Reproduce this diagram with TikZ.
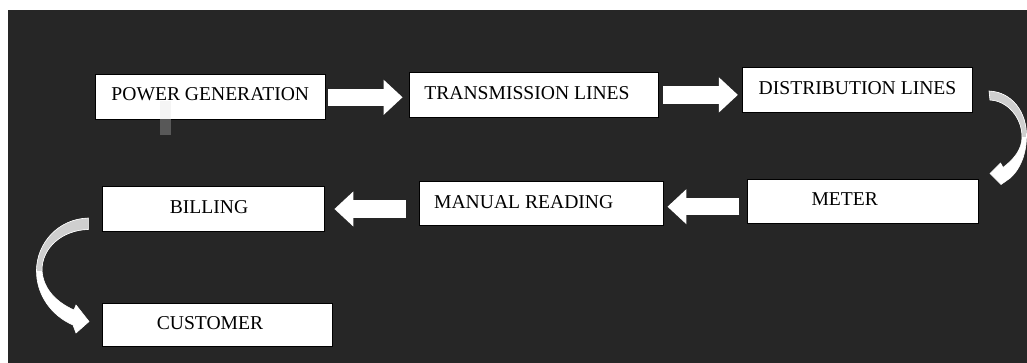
\documentclass[tikz,border=0pt]{standalone}
\usepackage{fontspec}
\setmainfont{Liberation Serif}
\usetikzlibrary{arrows.meta,calc}
\definecolor{bgdark}{HTML}{262626}
\definecolor{ribbongray}{HTML}{CFCFCF}
\definecolor{stubgray}{HTML}{585858}

\begin{document}
\begin{tikzpicture}[x=1pt,y=-1pt,
    box/.style={rectangle, draw=black, line width=0.8pt, fill=white, inner sep=0pt, text depth=4pt, font=\fontsize{19.6}{22}\selectfont},
    blockarrow/.style={white, line width=17.5pt, -{Triangle[length=19pt,width=34pt]}},
    ribbon/.style={fill=white, draw=white, line width=0.6pt}]

    \useasboundingbox (0,0) rectangle (1027,363);
    \fill[white] (0,0) rectangle (1027,363);
    \fill[bgdark] (8,10) rectangle (1027,363);

    % first row
    \node[box, minimum width=230.5pt, minimum height=45pt] (pg) at (210.3,96.5) {POWER GENERATION};
    \node[box, minimum width=249pt, minimum height=44.3pt] (tl) at (533.5,94.9) {TRANSMISSION LINES\hspace*{13pt}};
    \node[box, minimum width=230.4pt, minimum height=44.8pt] (dl) at (857.5,89.9) {DISTRIBUTION LINES};

    % second row
    \node[box, minimum width=230.4pt, minimum height=44pt] (meter) at (862.7,201.3) {METER\hspace*{36pt}};
    \node[box, minimum width=244.3pt, minimum height=44pt] (mr) at (541.2,203.7) {MANUAL READING\hspace*{35pt}};
    \node[box, minimum width=222pt, minimum height=44.3pt] (billing) at (213.3,208.8) {BILLING\hspace*{8.6pt}};

    % last row
    \node[box, minimum width=230pt, minimum height=43.4pt] (customer) at (217.3,325) {CUSTOMER\hspace*{14.6pt}};

    % grey stub under the first box
    \fill[stubgray] ($(pg.south west)+(65,0)$) rectangle ++(11.7,16);
    \fill[black!4] ($(pg.south west)+(65,-18)$) rectangle ++(11.7,17.4);

    % straight arrows
    \draw[blockarrow] ($(pg.east)+(2.5,0.8)$) -- ($(pg.east -| tl.west)+(-6,0.8)$);
    \draw[blockarrow] ($(tl.east)+(5,0)$) -- ($(tl.east -| dl.west)+(-4,0)$);
    \draw[blockarrow] ($(meter.west)+(-7.7,5.4)$) -- ($(meter.west -| mr.east)+(3.7,5.4)$);
    \draw[blockarrow] ($(mr.west)+(-13,5.3)$) -- ($(mr.west -| billing.east)+(9.7,5.3)$);

    % curved arrows
    \filldraw[ribbon, path picture={\fill[ribbongray] (980,80) rectangle (1030,137);}]
        (989,91) .. controls (1012,92) and (1027,112) .. (1026.5,137)
        .. controls (1026,160) and (1016,175) .. (1006,181)
        -- (1001,184.5) -- (990,173.5) -- (1000.5,163) -- (1003,167.5)
        .. controls (1013,160) and (1022,150) .. (1022,137)
        .. controls (1022,118) and (1008,101) .. (990,100) -- cycle;
    \filldraw[ribbon, path picture={\fill[ribbongray] (20,210) rectangle (95,271);}]
        (88.3,218) .. controls (58,219) and (37,243) .. (36.5,270)
        .. controls (36,295) and (52,316) .. (73,325)
        -- (76,333) -- (89,321.5) -- (76,305) -- (74,310)
        .. controls (58,303) and (43,290) .. (42,270)
        .. controls (42,248) and (62,230) .. (88.3,229.5) -- cycle;
\end{tikzpicture}
\end{document}
